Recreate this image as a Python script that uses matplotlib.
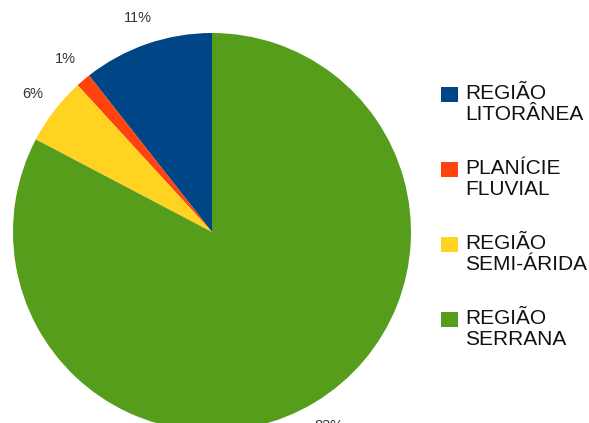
import matplotlib
matplotlib.use("Agg")
import matplotlib.pyplot as plt
from matplotlib.patches import Rectangle

categories = ["REGIÃO\nLITORÂNEA", "PLANÍCIE\nFLUVIAL", "REGIÃO\nSEMI-ÁRIDA", "REGIÃO\nSERRANA"]
values = [10.6, 1.2, 5.5, 82.7]
colors = ["#004586", "#ff420e", "#ffd320", "#579d1c"]

W, H = 589, 423
fig = plt.figure(figsize=(W / 100, H / 100), dpi=100)
ax = fig.add_axes([0, 0, 1, 1])

cx, cy, r = 212, H - 232, 199
wedges, texts, autotexts = ax.pie(
    values, colors=colors, startangle=90, counterclock=True,
    center=(cx, cy), radius=r, autopct="%1.0f%%", pctdistance=1.14,
    wedgeprops=dict(linewidth=0), frame=True,
    textprops=dict(fontsize=10.5, color="#333333", family=["Liberation Sans", "DejaVu Sans"]),
)
ax.set_xlim(0, W)
ax.set_ylim(0, H)
ax.set_aspect("equal")
ax.axis("off")

# legend
y0 = 87
step = 75
for i, (lab, col) in enumerate(zip(categories, colors)):
    ytop = H - (y0 + i * step)
    ax.add_patch(Rectangle((441, ytop - 15), 17, 15, facecolor=col, edgecolor="none", clip_on=False))
    ax.text(465, ytop + 3, lab, ha="left", va="top", fontsize=15, linespacing=1.15,
            color="#111111", family=["Liberation Sans", "DejaVu Sans"])

fig.savefig("out.png", dpi=100, facecolor="white")
